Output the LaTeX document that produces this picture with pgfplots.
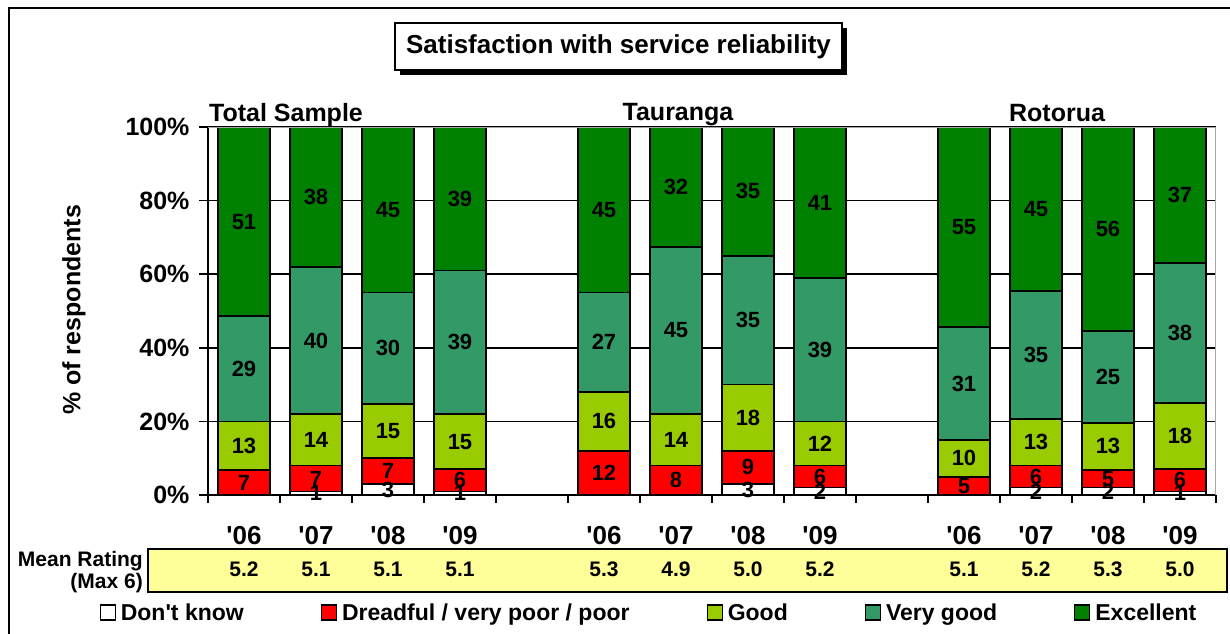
\documentclass[border=0pt]{standalone}
\usepackage{pgfplots}
\pgfplotsset{compat=1.18}
\usepackage{pgfplotstable}
\usepackage{fontspec}
\setmainfont{Liberation Sans}
\definecolor{cDK}{HTML}{FFFFFF}
\definecolor{cDr}{HTML}{FF0000}
\definecolor{cG}{HTML}{99CC00}
\definecolor{cVG}{HTML}{339966}
\definecolor{cE}{HTML}{008000}
\definecolor{cY}{HTML}{FFFF99}
\newcommand{\fs}[1]{\fontsize{#1bp}{#1bp}\selectfont\bfseries}
\pgfplotstableread{
x  DK  Dr   G    VG   E    lDK lDr lG lVG lE mean
0  0   6.8  13.2 28.6 51.4 {}  7   13 29  51 5.2
1  1   7    14   40   38   1   7   14 40  38 5.1
2  3   7    14.7 30.3 45   3   7   15 30  45 5.1
3  1   6    15   39   39   1   6   15 39  39 5.1
5  0   12   16   27   45   {}  12  16 27  45 5.3
6  0   8    14   45.4 32.6 {}  8   14 45  32 4.9
7  3   9    18   35   35   3   9   18 35  35 5.0
8  2   6    12   39   41   2   6   12 39  41 5.2
10 0   4.9  10.1 30.6 54.4 {}  5   10 31  55 5.1
11 2   6    12.7 34.7 44.6 2   6   13 35  45 5.2
12 2   4.8  12.8 25   55.4 2   5   13 25  56 5.3
13 1   6    18   38   37   1   6   18 38  37 5.0
}\data
\pgfplotsset{legsq/.style={legend image code/.code={\draw[##1,draw=black,line width=1.2bp] (0bp,-7bp) rectangle (15bp,8bp);}}}
\begin{document}
\begin{tikzpicture}
\path[use as bounding box] (0,0) rectangle (1230bp,-634bp);
% outer frame
\draw[line width=2bp] (9bp,-634bp) -- (9bp,-8bp) -- (1230bp,-8bp);
% title box
\fill[black] (400bp,-28bp) rectangle (847bp,-75bp);
\draw[fill=white,line width=1.5bp] (395bp,-23bp) rectangle (842bp,-70bp);
\node[font=\fs{26}] at (618.5bp,-46.5bp) {Satisfaction with service reliability};
% group labels
\node[font=\fs{25},anchor=base] at (286bp,-121bp) {Total Sample};
\node[font=\fs{25},anchor=base] at (678bp,-120bp) {Tauranga};
\node[font=\fs{25},anchor=base] at (1057bp,-121bp) {Rotorua};
% mean rating box
\draw[fill=cY,line width=2bp] (148bp,-549bp) rectangle (1227bp,-592bp);
\node[font=\fs{21},anchor=base east,inner sep=0pt] at (143bp,-566bp) {Mean Rating};
\node[font=\fs{21},anchor=base east,inner sep=0pt] at (143bp,-588bp) {(Max 6)};
\begin{axis}[
  at={(208bp,-495bp)}, anchor=south west,
  scale only axis, width=1008bp, height=368bp,
  xmin=-0.5, xmax=13.5, ymin=0, ymax=100,
  ybar stacked, bar width=0.72,
  axis x line=bottom, axis y line=left,
  axis line style={-, black, line width=1.5bp},
  /pgf/number format/assume math mode=true,
  ytick={0,20,...,100},
  yticklabel={\pgfmathprintnumber{\tick}\%},
  yticklabel style={font=\fs{25}, xshift=-6bp},
  ymajorgrids, major grid style={black, line width=1.5bp},
  tick align=outside, major tick length=9bp,
  major y tick style={black, line width=1.5bp},
  major x tick style={draw=none},
  xtick={0,1,2,3,5,6,7,8,10,11,12,13},
  xticklabels={\textquotesingle06,\textquotesingle07,\textquotesingle08,\textquotesingle09,\textquotesingle06,\textquotesingle07,\textquotesingle08,\textquotesingle09,\textquotesingle06,\textquotesingle07,\textquotesingle08,\textquotesingle09},
  xticklabel style={font=\fs{26}, anchor=base, yshift=-40bp},
  minor xtick={-0.5,0.5,...,13.5}, minor tick length=8bp,
  minor x tick style={black, line width=1.5bp},
  ylabel={\% of respondents},
  ylabel style={font=\fs{25}, at={(axis description cs:-0.133,0.503)}, anchor=center},
  legend columns=5,
  legend style={at={(axis description cs:0.438,-0.3207)}, anchor=center, draw=none, fill=none,
    font=\fs{23}, /tikz/every even column/.append style={column sep=74bp},
    nodes={inner sep=3bp}},
]
\draw[gray!70, line width=1.5bp] (axis cs:-0.5,100) -- (axis cs:13.5,100) -- (axis cs:13.5,0);
\addplot[fill=cDK, draw=black, line width=1.5bp, legsq] table[x=x,y=DK]{\data};
\addplot[fill=cDr, draw=black, line width=1.5bp, legsq] table[x=x,y=Dr]{\data};
\addplot[fill=cG, draw=black, line width=1.5bp, legsq] table[x=x,y=G]{\data};
\addplot[fill=cVG, draw=black, line width=1.5bp, legsq] table[x=x,y=VG]{\data};
\addplot[fill=cE, draw=black, line width=1.5bp, legsq] table[x=x,y=E]{\data};
\legend{\hspace{2bp}Don\textquotesingle t know, \hspace{2bp}Dreadful / very poor / poor, \hspace{2bp}Good, \hspace{2bp}Very good, \hspace{2bp}Excellent}
\end{axis}
\begin{axis}[
  at={(208bp,-495bp)}, anchor=south west,
  scale only axis, width=1008bp, height=368bp,
  xmin=-0.5, xmax=13.5, ymin=0, ymax=100,
  hide axis, clip=false,
  nodes near coords={\fs{22}\pgfplotspointmeta}, point meta=explicit symbolic,
  every node near coord/.append style={anchor=center, inner sep=0pt},
]
\addplot[only marks, mark=none] table[x=x, y expr=\thisrow{DK}/2, meta=lDK]{\data};
\addplot[only marks, mark=none] table[x=x, y expr=\thisrow{DK}+\thisrow{Dr}/2, meta=lDr]{\data};
\addplot[only marks, mark=none] table[x=x, y expr=\thisrow{DK}+\thisrow{Dr}+\thisrow{G}/2, meta=lG]{\data};
\addplot[only marks, mark=none] table[x=x, y expr=\thisrow{DK}+\thisrow{Dr}+\thisrow{G}+\thisrow{VG}/2, meta=lVG]{\data};
\addplot[only marks, mark=none] table[x=x, y expr=\thisrow{DK}+\thisrow{Dr}+\thisrow{G}+\thisrow{VG}+\thisrow{E}/2, meta=lE]{\data};
\addplot[only marks, mark=none, nodes near coords={\fs{21}\pgfplotspointmeta}] table[x=x, y expr=-20.1, meta=mean]{\data};
\end{axis}
\end{tikzpicture}
\end{document}
